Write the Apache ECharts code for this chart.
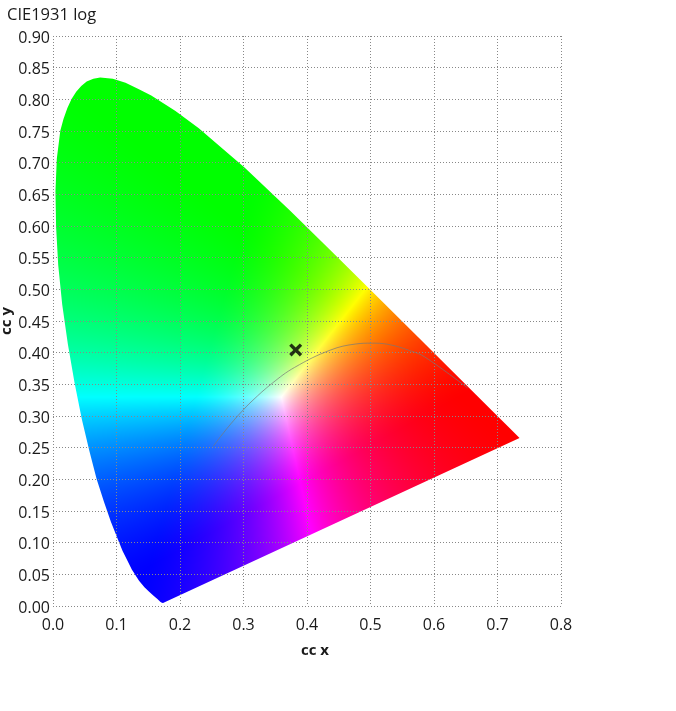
<!DOCTYPE html>
<html>
<head>
<meta charset="utf-8">
<title>CIE1931 log</title>
<style>
html, body { margin: 0; padding: 0; background: #fff; }
#chart { width: 676px; height: 711px; }
</style>
<script src="https://cdn.jsdelivr.net/npm/echarts@6/dist/echarts.min.js"></script>
</head>
<body>
<div id="chart"></div>
<script>
// horseshoe outline
var locusX = [0.1741, 0.1733, 0.1714, 0.1689, 0.1644, 0.1611, 0.1566, 0.1510, 0.1440, 0.1355, 0.1241, 0.1175, 0.1096, 0.1010, 0.0913, 0.0805, 0.0687, 0.0573, 0.0454, 0.0340, 0.0235, 0.0145, 0.0082, 0.0049, 0.0039, 0.0060, 0.0115, 0.0165, 0.0225, 0.0290, 0.0365, 0.0445, 0.0530, 0.0635, 0.0743, 0.0942, 0.1142, 0.1345, 0.1547, 0.1929, 0.2296, 0.3016, 0.3731, 0.4441, 0.5125, 0.5752, 0.6270, 0.6658, 0.6915, 0.7190, 0.7347];
var locusY = [0.0050, 0.0048, 0.0051, 0.0069, 0.0109, 0.0138, 0.0177, 0.0227, 0.0297, 0.0399, 0.0578, 0.0710, 0.0868, 0.1080, 0.1327, 0.1640, 0.2007, 0.2449, 0.2950, 0.3520, 0.4127, 0.4760, 0.5384, 0.5980, 0.6548, 0.7060, 0.7502, 0.7690, 0.7860, 0.8000, 0.8120, 0.8210, 0.8280, 0.8325, 0.8345, 0.8325, 0.8262, 0.8165, 0.8059, 0.7816, 0.7543, 0.6923, 0.6245, 0.5547, 0.4866, 0.4242, 0.3725, 0.3340, 0.3083, 0.2809, 0.2653];
// thin grey curve
var curveX = [0.2525, 0.2637, 0.2807, 0.2952, 0.3135, 0.3451, 0.3804, 0.4369, 0.4769, 0.5020, 0.5267, 0.5650, 0.5857, 0.6528];
var curveY = [0.2523, 0.2673, 0.2884, 0.3048, 0.3237, 0.3516, 0.3767, 0.4041, 0.4137, 0.4150, 0.4133, 0.4022, 0.3931, 0.3444];
// measured point
var markX = [0.3822];
var markY = [0.4044];

var getEle = function(ele){
  return document.querySelector(ele);
};

// xy -> rgb used only as the paint of the horseshoe
function xyColor(x, y){
  var X = x / y, Z = (1 - x - y) / y;
  var r = (3.2406 * X - 1.5372 - 0.4986 * Z) * 0.655;
  var g = (-0.9689 * X + 1.8758 + 0.0415 * Z) * 1.164;
  var b = (0.0557 * X - 0.2040 + 1.0570 * Z) * 1.175;
  r = Math.max(r, 0); g = Math.max(g, 0); b = Math.max(b, 0);
  var m = Math.max(r, g, b) || 1;
  return [Math.pow(r / m, 1.25) * 255, Math.pow(g / m, 1.25) * 255, Math.pow(b / m, 1.25) * 255];
}

var paint = null;
function getPaint(api){
  if(paint) return paint;
  var w = api.getWidth(), h = api.getHeight();
  var c = document.createElement("canvas");
  c.width = w; c.height = h;
  var ctx = c.getContext("2d");
  var img = ctx.createImageData(w, h);
  var p0 = api.coord([0, 0]), p1 = api.coord([0.8, 0.9]);
  for(var py = 0; py < h; py++){
    for(var px = 0; px < w; px++){
      var x = (px + 0.5 - p0[0]) / (p1[0] - p0[0]) * 0.8;
      var y = (py + 0.5 - p0[1]) / (p1[1] - p0[1]) * 0.9;
      if(y < 0.001) y = 0.001;
      var col = xyColor(Math.max(x, 0), y);
      var i = (py * w + px) * 4;
      img.data[i] = col[0]; img.data[i + 1] = col[1]; img.data[i + 2] = col[2]; img.data[i + 3] = 255;
    }
  }
  ctx.putImageData(img, 0, 0);
  paint = {image: c, repeat: "no-repeat"};
  return paint;
}

function pairs(xs, ys){
  return xs.map(function(v, i){ return [v, ys[i]]; });
}

var labelStyle = {color: "#1a1a1a", fontSize: 16, fontFamily: "Open Sans"};
var gridLine = {show: true, lineStyle: {color: "#888", width: 1, type: [1, 2]}};
var nameStyle = {color: "#1a1a1a", fontSize: 15, fontWeight: "bold", fontFamily: "Open Sans"};

var option = {
  animation: false,
  backgroundColor: "#fff",
  title: {
    text: "CIE1931 log", left: 2, top: 2,
    textStyle: {color: "#1a1a1a", fontSize: 16.5, fontWeight: "normal", fontFamily: "Open Sans"}
  },
  grid: {left: 53, top: 36, width: 508, height: 570, containLabel: false, outerBoundsMode: "none"},
  xAxis: {
    type: "value", min: 0, max: 0.8, interval: 0.1, z: 3,
    name: "cc x", nameLocation: "middle", nameGap: 37, nameMoveOverlap: false,
    nameTextStyle: Object.assign({padding: [0, 0, 0, 16]}, nameStyle),
    axisLine: {show: false}, axisTick: {show: false}, splitLine: gridLine,
    axisLabel: Object.assign({margin: 11, formatter: function(v){ return v.toFixed(1); }}, labelStyle)
  },
  yAxis: {
    type: "value", min: 0, max: 0.9, interval: 0.05, z: 3,
    name: "cc y", nameLocation: "middle", nameGap: 39, nameMoveOverlap: false, nameTextStyle: nameStyle,
    axisLine: {show: false}, axisTick: {show: false}, splitLine: gridLine,
    axisLabel: Object.assign({margin: 3, lineHeight: 22, verticalAlign: "top", padding: [-9, 0, 0, 0], formatter: function(v){ return v.toFixed(2); }}, labelStyle)
  },
  series: [
    {
      type: "custom", z: 1, silent: true,
      coordinateSystem: "cartesian2d",
      data: [[locusX[0], locusY[0]]],
      renderItem: function(params, api){
        var pts = pairs(locusX, locusY).map(function(p){ return api.coord(p); });
        return {type: "polygon", shape: {points: pts}, style: {fill: getPaint(api)}};
      }
    },
    {
      type: "line", z: 4, silent: true, smooth: 0.4, symbol: "none",
      data: pairs(curveX, curveY),
      lineStyle: {color: "rgba(120,120,120,0.7)", width: 1}
    },
    {
      type: "scatter", z: 5, silent: true,
      symbol: "path://M2.2 0L6 3.8L9.8 0L12 2.2L8.2 6L12 9.8L9.8 12L6 8.2L2.2 12L0 9.8L3.8 6L0 2.2Z",
      symbolSize: 13,
      itemStyle: {color: "#000"},
      data: pairs(markX, markY)
    }
  ]
};

window.onload = function(){
  var myChart = echarts.init(getEle("#chart"));
  myChart.setOption(option);
};
</script>
</body>
</html>
